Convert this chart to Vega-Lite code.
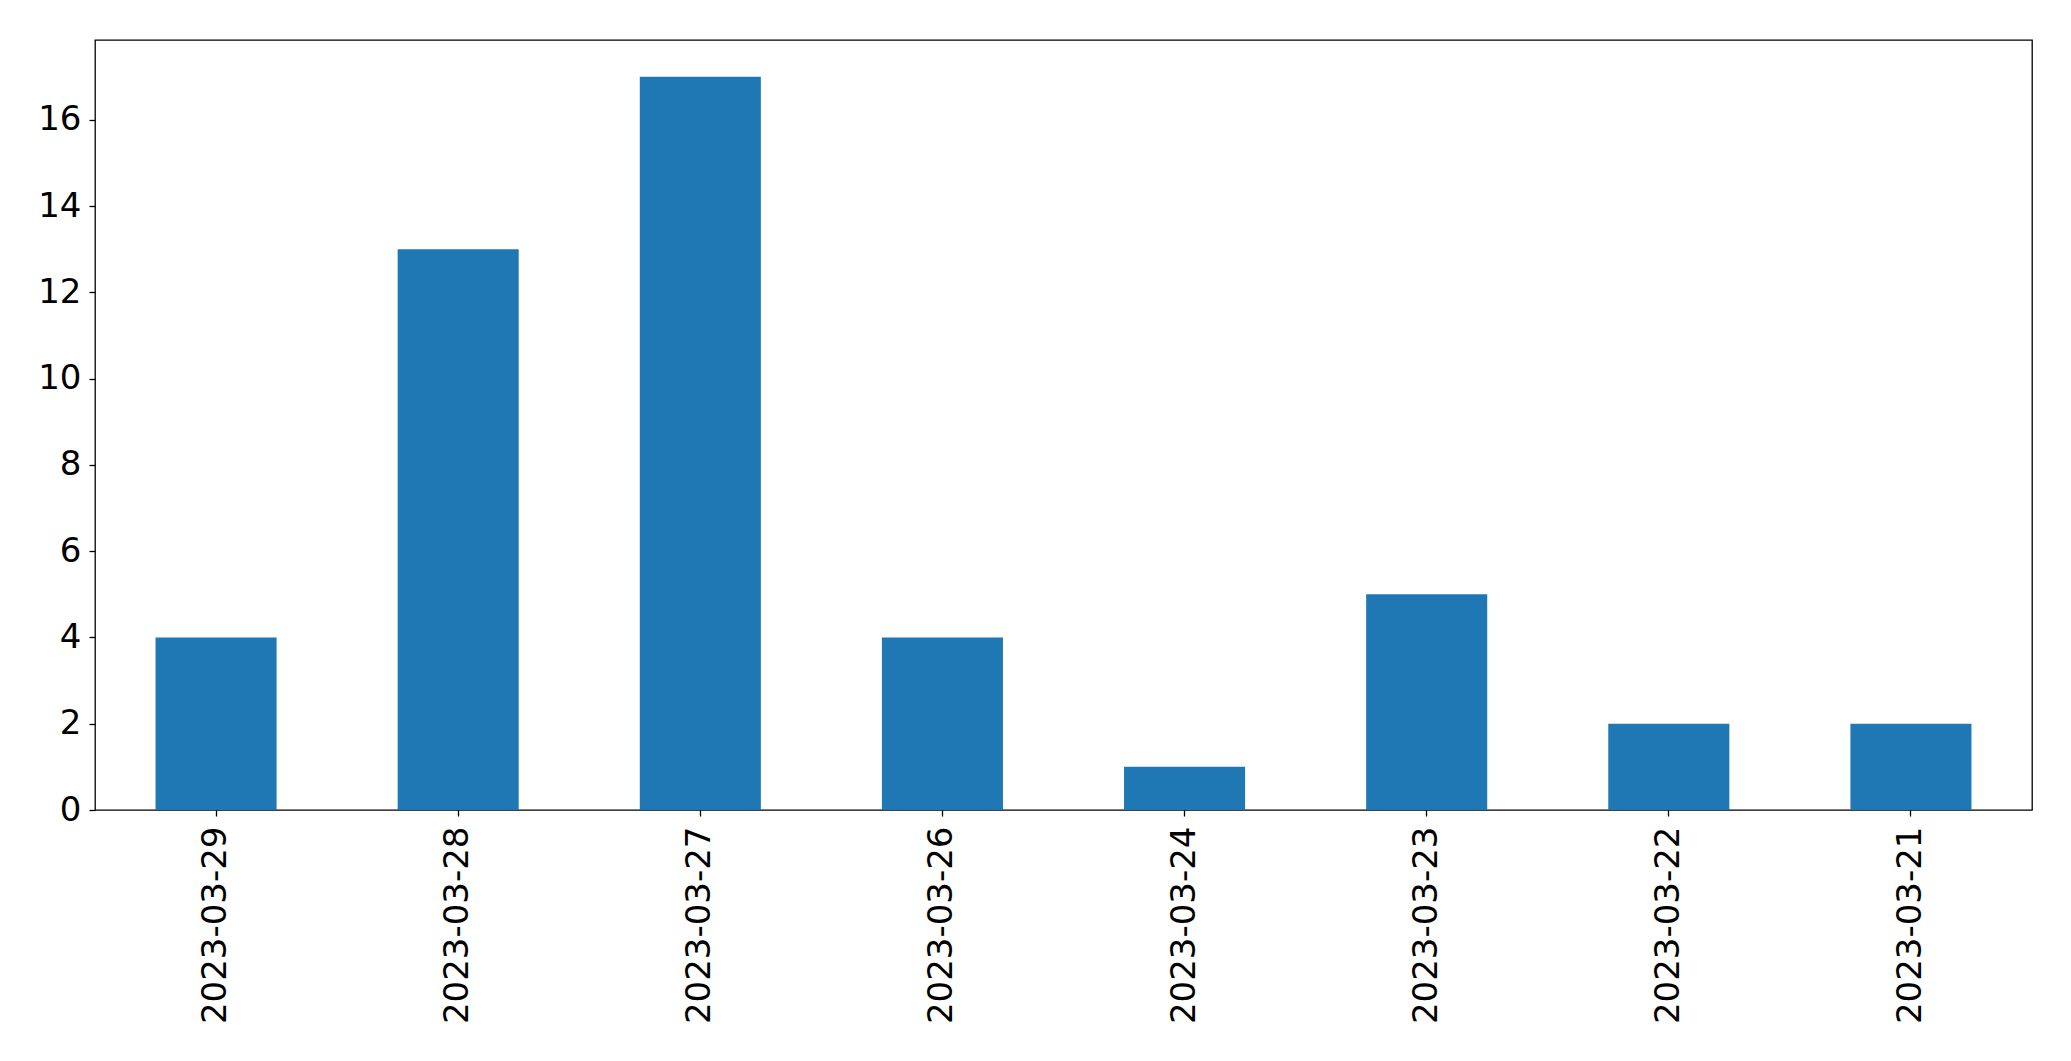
{
  "$schema": "https://vega.github.io/schema/vega-lite/v6.json",
  "width": 1937,
  "height": 770,
  "autosize": {"type": "none"},
  "padding": {"left": 95, "top": 40, "right": 39, "bottom": 251},
  "background": "white",
  "config": {
    "view": {"stroke": "black", "strokeWidth": 1.3},
    "axis": {"domain": false, "grid": false, "labelFont": "DejaVu Sans", "labelFontSize": 34, "labelColor": "black", "tickColor": "black", "tickSize": 6, "tickWidth": 1.3, "labelPadding": 8, "labelLimit": 0, "title": null}
  },
  "data": {
    "values": [
      {"date": "2023-03-29", "count": 4},
      {"date": "2023-03-28", "count": 13},
      {"date": "2023-03-27", "count": 17},
      {"date": "2023-03-26", "count": 4},
      {"date": "2023-03-24", "count": 1},
      {"date": "2023-03-23", "count": 5},
      {"date": "2023-03-22", "count": 2},
      {"date": "2023-03-21", "count": 2}
    ]
  },
  "mark": {"type": "bar", "color": "#1f77b4"},
  "encoding": {
    "x": {
      "field": "date", "type": "nominal", "sort": null,
      "scale": {"paddingInner": 0.5, "paddingOuter": 0.25},
      "axis": {"labelAngle": -90, "labelBaseline": "middle", "labelAlign": "right", "labelPadding": 10}
    },
    "y": {
      "field": "count", "type": "quantitative",
      "scale": {"domain": [0, 17.85], "nice": false},
      "axis": {"values": [0, 2, 4, 6, 8, 10, 12, 14, 16]}
    }
  }
}
